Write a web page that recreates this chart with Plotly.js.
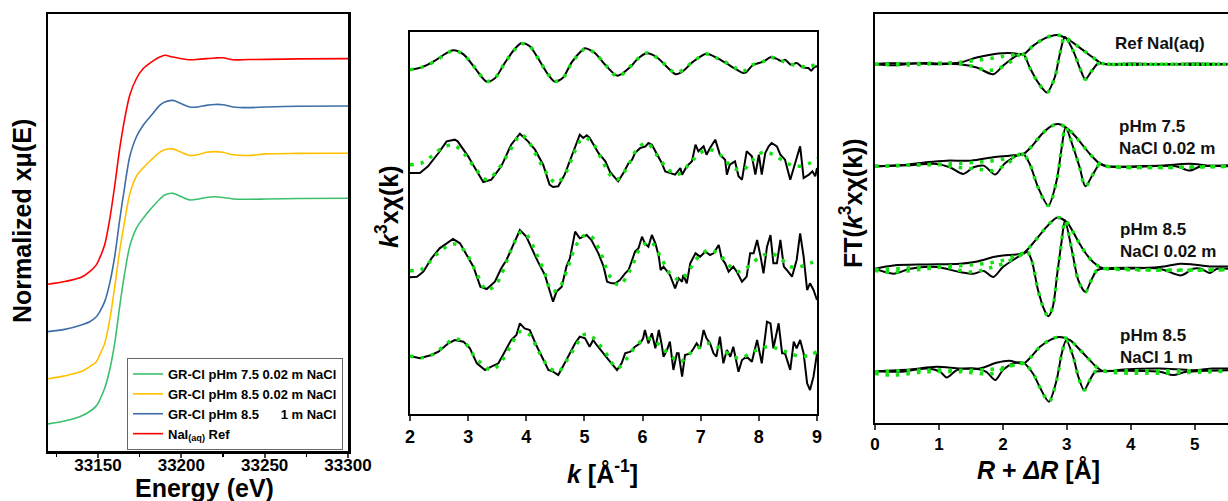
<!DOCTYPE html>
<html><head><meta charset="utf-8">
<script src="https://cdn.plot.ly/plotly-3.0.1.min.js"></script>
<style>body{margin:0;background:#fff}#chart{width:1228px;height:501px}</style>
</head><body><div id="chart"></div>
<script>
// ===== Left panel: normalized XANES (I K-edge) =====
const energy = [33120,33130,33140,33145,33149,33151,33154,33157,33160,33163,33166,33169,33173,33177,33182,33187,33190,33195,33200,33205,33210,33215,33220,33225,33231,33240,33251,33270,33300];
const xanesGreen  = [0,0.013,0.035,0.055,0.08,0.106,0.158,0.239,0.357,0.52,0.668,0.786,0.867,0.911,0.956,0.996,1.015,1.022,1.007,0.993,0.996,1.004,1.007,1.004,0.997,0.996,0.997,0.999,1.0];
const xanesYellow = [0,0.013,0.032,0.054,0.076,0.106,0.157,0.26,0.406,0.567,0.7,0.817,0.897,0.934,0.971,1.004,1.015,1.019,1.004,0.99,0.993,1.004,1.007,1.004,0.993,0.99,0.997,0.999,1.0];
const xanesBlue   = [0,0.01,0.03,0.044,0.066,0.088,0.133,0.214,0.332,0.494,0.642,0.774,0.863,0.914,0.959,1.003,1.018,1.025,1.01,0.996,0.996,1.003,1.007,1.006,0.996,0.993,0.996,0.999,1.0];
const xanesRed    = [0,0.012,0.031,0.056,0.086,0.116,0.175,0.287,0.435,0.6,0.733,0.837,0.911,0.955,0.985,1.007,1.015,1.007,1.0,0.995,0.997,1.0,1.003,1.004,0.995,0.996,0.997,0.999,1.0];
const xanesOffsets = [0, 0.2, 0.409, 0.619];
const xanesNames = ["GR-Cl pHm 7.5 0.02 m NaCl","GR-Cl pHm 8.5 0.02 m NaCl","GR-Cl pHm 8.5\u00a0\u00a0\u00a0\u00a0\u00a0\u00a01 m NaCl","NaI<sub>(aq)</sub> Ref"];
const energyTicks = [33150, 33200, 33250, 33300];

// ===== Middle panel: k^3-weighted EXAFS (data and fit) =====
const kFit1 = [2.0,2.2,2.43,2.6,2.74,2.92,3.12,3.32,3.46,3.63,3.8,3.92,4.06,4.2,4.38,4.49,4.63,4.78,4.95,5.01,5.18,5.36,5.57,5.79,5.9,6.07,6.24,6.42,6.56,6.7,6.87,7.1,7.27,7.45,7.62,7.73,7.9,8.08,8.2,8.37,8.54,8.71,8.88,9.0];
const chiFit1 = [-2,5,23,43,55,43,3,-37,-27,18,58,76,68,33,-17,-37,-27,18,53,61,48,13,-22,8,28,48,35,8,-12,-2,23,45,33,18,1,-7,13,23,35,26,15,8,8,15];
const kData1 = [2.0,2.2,2.43,2.6,2.74,2.92,3.12,3.32,3.46,3.63,3.8,3.92,4.06,4.2,4.38,4.49,4.63,4.78,4.95,5.01,5.18,5.36,5.57,5.79,5.9,6.07,6.24,6.42,6.56,6.62,6.7,6.87,7.1,7.27,7.45,7.62,7.73,7.78,7.9,8.08,8.2,8.3,8.4,8.45,8.55,8.65,8.75,8.85,8.9,8.95,9.0];
const chiData1 = [-2,5,25,45,56,44,2,-38,-28,18,60,78,68,33,-18,-38,-26,20,55,62,48,12,-20,6,28,47,36,6,-15,-14,-6,22,46,34,16,-2,-12,-10,12,22,35,31,23,28,13,18,5,3,-5,5,8];

const kFit2 = [2.0,2.2,2.37,2.54,2.74,2.92,3.12,3.32,3.49,3.66,3.8,3.89,4.0,4.12,4.26,4.43,4.52,4.66,4.81,4.92,5.01,5.12,5.3,5.44,5.56,5.73,5.9,6.07,6.24,6.42,6.59,6.82,6.99,7.16,7.33,7.56,7.73,7.9,8.08,8.25,8.48,8.65,8.88,9.0];
const chiFit2 = [10,15,35,58,69,45,0,-35,-10,35,75,99,90,55,10,-35,-45,-20,40,80,90,80,25,-20,-35,0,55,75,40,0,-20,15,45,55,40,0,-5,25,48,40,15,5,15,30];
const kData2 = [2.0,2.17,2.31,2.49,2.63,2.77,2.82,3.0,3.15,3.26,3.4,3.57,3.74,3.89,4.03,4.15,4.29,4.4,4.46,4.55,4.66,4.78,4.86,4.92,4.98,5.04,5.09,5.18,5.24,5.36,5.44,5.58,5.67,5.76,5.82,5.87,5.96,6.05,6.1,6.16,6.24,6.33,6.39,6.47,6.56,6.65,6.68,6.76,6.85,6.91,6.96,7.05,7.1,7.16,7.25,7.33,7.42,7.45,7.5,7.59,7.65,7.71,7.79,7.88,7.94,8.0,8.05,8.11,8.17,8.22,8.31,8.37,8.45,8.54,8.63,8.71,8.77,8.86,8.92,8.97,9.0];
const chiData2 = [-15,-15,5,45,80,85,80,35,-10,-42,-35,5,70,103,80,55,10,-50,-57,-55,-20,35,75,100,90,98,90,65,45,20,-12,-40,-15,15,25,45,60,65,75,70,45,15,-10,-15,-20,0,-20,5,20,70,50,65,40,60,85,40,25,-20,10,20,-25,-35,50,35,-20,40,-20,45,65,75,65,40,25,-35,20,65,-30,-20,-10,-25,0];

const kFit3 = [2.0,2.2,2.37,2.54,2.77,2.95,3.12,3.32,3.49,3.66,3.8,3.92,4.03,4.17,4.32,4.4,4.46,4.58,4.72,4.86,5.01,5.12,5.27,5.41,5.53,5.61,5.79,5.96,6.13,6.31,6.47,6.65,6.82,6.99,7.16,7.33,7.51,7.68,7.85,8.03,8.2,8.37,8.54,8.71,8.88,9.0];
const chiFit3 = [-2,2,30,60,78,55,0,-60,-40,25,85,115,100,50,-10,-55,-65,-50,10,75,105,100,55,-10,-40,-45,0,65,85,40,-10,-30,5,45,60,45,10,-5,15,40,50,35,10,10,20,28];
const kData3 = [2.0,2.12,2.23,2.37,2.51,2.66,2.74,2.86,2.97,3.09,3.21,3.32,3.46,3.57,3.66,3.78,3.89,4.0,4.09,4.2,4.32,4.4,4.46,4.52,4.61,4.69,4.75,4.84,4.92,5.04,5.12,5.24,5.33,5.39,5.47,5.53,5.61,5.7,5.76,5.82,5.87,5.93,5.99,6.04,6.1,6.16,6.22,6.28,6.31,6.36,6.42,6.47,6.56,6.62,6.68,6.7,6.76,6.82,6.91,6.99,7.08,7.16,7.22,7.31,7.36,7.42,7.48,7.56,7.62,7.71,7.79,7.85,7.91,7.97,8.03,8.08,8.14,8.2,8.25,8.31,8.37,8.43,8.48,8.57,8.65,8.71,8.77,8.83,8.88,8.94,9.0];
const chiData3 = [-22,-20,-5,35,65,85,93,80,45,10,-50,-57,-35,5,30,75,120,100,65,25,-15,-65,-95,-65,-50,10,35,115,95,105,90,50,10,-35,-40,-40,-30,-10,0,30,55,65,100,80,70,105,80,40,0,10,-5,-15,-55,-25,-35,-15,-40,20,50,40,55,45,50,75,35,20,-5,10,-5,-35,-20,50,50,90,40,-10,70,105,20,20,90,10,0,-20,30,110,40,-60,-40,-60,-90];

const kFit4 = [2.0,2.2,2.43,2.6,2.77,2.95,3.09,3.23,3.4,3.57,3.74,3.89,4.06,4.2,4.38,4.55,4.72,4.86,4.98,5.09,5.24,5.41,5.56,5.73,5.9,6.07,6.2,6.35,6.5,6.65,6.82,6.99,7.16,7.33,7.51,7.68,7.85,8.03,8.2,8.37,8.54,8.71,8.88,9.0];
const chiFit4 = [-3,-8,5,30,48,35,0,-25,-45,-20,30,70,60,15,-35,-50,-10,30,60,60,35,-5,-40,-10,30,50,42,20,-5,-20,5,25,35,20,0,-10,5,20,25,15,5,-5,0,10];
const kData4 = [2.0,2.17,2.37,2.49,2.66,2.77,2.92,3.03,3.15,3.29,3.4,3.52,3.63,3.74,3.83,3.89,3.97,4.06,4.17,4.29,4.38,4.46,4.55,4.66,4.75,4.84,4.92,5.01,5.09,5.15,5.21,5.36,5.44,5.56,5.64,5.7,5.79,5.87,5.96,6.01,6.04,6.1,6.16,6.22,6.28,6.33,6.36,6.42,6.47,6.53,6.59,6.62,6.68,6.73,6.82,6.88,6.93,6.99,7.05,7.1,7.16,7.22,7.27,7.33,7.39,7.45,7.51,7.56,7.65,7.71,7.79,7.88,7.97,8.05,8.14,8.2,8.25,8.34,8.4,8.45,8.54,8.6,8.65,8.71,8.77,8.83,8.88,8.94,9.0];
const chiData4 = [-3,-10,0,10,35,45,40,20,-25,-45,-35,-25,10,45,60,95,80,75,30,-15,-45,-50,-60,-25,5,35,55,50,25,45,30,-5,-20,-45,-25,5,10,25,35,50,75,35,65,20,75,30,-5,15,40,-45,5,5,-65,0,5,20,35,20,75,50,35,5,-5,55,-25,15,-5,25,-50,-15,-5,-20,45,-25,100,95,20,95,5,5,-45,40,20,45,5,-85,-105,-65,5];
const chiOffsets = [1035, 738, 432, 177];

// ===== Right panel: Fourier transforms (magnitude and imaginary part) =====
const rMag1Data = [0,0.2,0.5,0.8,1.0,1.33,1.59,1.85,2.0,2.16,2.32,2.47,2.68,2.85,3.02,3.2,3.41,3.52,3.62,4.0,4.5,5.0,5.52];
const mag1Data  = [0,3,2,4,2,5,20,30,33,33,30,55,80,88,75,50,20,5,0,2,0,2,0];
const rMag1Fit  = [0,0.5,1.0,1.28,1.6,1.9,2.1,2.27,2.32,2.47,2.68,2.85,3.02,3.2,3.41,3.52,3.62,4.0,4.5,5.0,5.52];
const mag1Fit   = [0,2,3,5,12,20,27,30,30,55,80,88,75,50,20,5,0,0,0,0,0];
const rIm1Data  = [0,0.3,0.6,1.0,1.33,1.59,1.85,2.0,2.21,2.32,2.42,2.55,2.69,2.81,2.89,2.97,3.1,3.2,3.29,3.39,3.49,3.62,4.0,4.5,5.0,5.52];
const im1Data   = [0,-3,2,0,0,-10,-30,-5,25,30,-10,-55,-85,-40,30,82,40,-10,-45,-20,2,0,-2,0,-2,0];
const rIm1Fit   = [0,0.5,1.0,1.28,1.5,1.74,1.9,2.1,2.27,2.32,2.42,2.55,2.69,2.81,2.89,2.97,3.1,3.2,3.29,3.39,3.49,3.62,4.0,5.0,5.52];
const im1Fit    = [0,-2,2,2,-5,-18,-15,5,30,30,-10,-55,-85,-40,30,82,40,-10,-45,-20,2,0,0,0,0];

const rMag2Data = [0,0.5,0.8,1.12,1.5,1.85,2.1,2.32,2.45,2.6,2.75,2.86,3.0,3.1,3.2,3.36,3.52,3.62,4.5,4.8,5.0,5.2,5.52];
const mag2Data  = [0,5,12,17,17,27,32,37,60,95,120,127,115,97,75,37,7,0,2,7,7,2,3];
const rMag2Fit  = [0,0.5,1.12,1.6,1.85,2.1,2.32,2.45,2.6,2.75,2.86,3.0,3.1,3.2,3.36,3.52,3.62,5.52];
const mag2Fit   = [0,3,7,12,17,25,37,60,95,120,127,115,97,75,37,7,0,0];
const rIm2Data  = [0,0.5,0.96,1.17,1.38,1.54,1.7,1.88,2.02,2.27,2.32,2.42,2.55,2.71,2.84,2.92,2.98,3.1,3.2,3.29,3.41,3.52,3.62,4.7,4.92,5.1,5.52];
const im2Data   = [0,3,7,-3,-23,-3,2,-25,7,37,37,7,-63,-118,-43,57,117,57,-3,-60,-23,7,0,0,-13,0,0];
const rIm2Fit   = [0,0.5,1.0,1.28,1.59,1.85,2.06,2.27,2.32,2.42,2.55,2.71,2.84,2.92,2.98,3.1,3.2,3.29,3.41,3.52,3.62,5.52];
const im2Fit    = [0,3,5,-3,-8,-13,7,37,37,7,-63,-118,-43,57,117,57,-3,-60,-23,7,0,0];

const rMag3Data = [0,0.29,0.81,1.33,1.6,1.85,2.0,2.32,2.42,2.55,2.68,2.85,3.0,3.1,3.2,3.3,3.41,3.52,3.62,4.45,4.77,4.97,5.23,5.52];
const mag3Data  = [0,10,13,15,22,35,40,47,65,95,125,154,140,110,75,45,20,5,0,5,15,13,7,7];
const rMag3Fit  = [0,0.81,1.6,2.0,2.27,2.32,2.42,2.55,2.68,2.85,3.0,3.1,3.2,3.3,3.41,3.52,3.62,5.52];
const mag3Fit   = [-3,5,13,25,45,47,65,95,125,154,140,110,75,45,20,5,0,-3];
const rIm3Data  = [0,0.29,0.55,0.96,1.33,1.54,1.7,1.85,2.0,2.32,2.38,2.45,2.55,2.65,2.71,2.78,2.85,2.92,2.97,3.08,3.18,3.29,3.38,3.47,3.55,4.45,4.79,4.97,5.1,5.23,5.35,5.52];
const im3Data   = [0,-15,0,5,-10,-15,-7,-25,5,45,50,25,-65,-125,-143,-115,-15,85,145,55,-35,-70,-35,-5,0,0,-20,0,0,-13,0,0];
const rIm3Fit   = [0,0.29,0.81,1.12,1.33,1.54,1.75,2.0,2.27,2.32,2.38,2.45,2.55,2.65,2.71,2.78,2.85,2.92,2.97,3.08,3.18,3.29,3.38,3.47,3.55,4.5,5.52];
const im3Fit    = [-5,-10,0,5,-5,-10,0,15,40,45,50,25,-65,-125,-143,-115,-15,85,145,55,-35,-70,-35,-5,0,-5,-3];

const rMag4Data = [0,0.55,0.96,1.33,1.64,1.9,2.1,2.32,2.45,2.58,2.75,2.88,3.05,3.15,3.31,3.46,3.57,3.9,4.45,4.97,5.28,5.52];
const mag4Data  = [0,5,13,8,8,25,31,23,45,73,95,103,93,75,43,13,0,5,8,3,8,8];
const rMag4Fit  = [0,0.8,1.59,2.0,2.27,2.32,2.45,2.58,2.75,2.88,3.05,3.15,3.31,3.46,3.57,5.52];
const mag4Fit   = [-2,3,3,10,23,23,45,73,95,103,93,75,43,13,0,0];
const rIm4Data  = [0,0.39,0.81,1.02,1.12,1.28,1.54,1.74,1.88,2.0,2.16,2.32,2.47,2.6,2.72,2.84,2.92,2.99,3.1,3.18,3.27,3.36,3.44,3.52,4.45,4.66,4.87,5.52];
const im4Data   = [0,-2,8,-2,-19,3,8,-2,-27,3,23,25,-7,-57,-92,-27,53,93,43,-17,-57,-27,-2,0,-2,-12,-2,3];
const rIm4Fit   = [0,0.29,0.81,1.33,1.85,2.06,2.27,2.32,2.47,2.6,2.72,2.84,2.92,2.99,3.1,3.18,3.27,3.36,3.44,3.52,5.52];
const im4Fit    = [-7,-12,-2,-2,-7,13,23,25,-7,-57,-92,-27,53,93,43,-17,-57,-27,-2,0,0];
const ftOffsets = [1079, 772, 464, 156];
const ftLabels = ["Ref NaI(aq)", "pHm 7.5<br>NaCl 0.02 m", "pHm 8.5<br>NaCl 0.02 m", "pHm 8.5<br>NaCl 1 m"];

// ===== build traces =====
const FONT = "Liberation Sans, Arial, sans-serif";
const GREEN_FIT = "#14e014";
const traces = [];
const xanesSeries = [xanesGreen, xanesYellow, xanesBlue, xanesRed];
const xanesColors = ["#3cc06e", "#ffc000", "#3d6ea8", "#ff0000"];
xanesSeries.forEach((s, i) => {
  traces.push({x: energy, y: s.map(v => v + xanesOffsets[i]), xaxis: "x", yaxis: "y",
    type: "scatter", mode: "lines", name: xanesNames[i],
    line: {color: xanesColors[i], width: 1.6, shape: "spline", smoothing: 0.8}});
});

function shifted(arr, off) { return arr.map(v => v + off); }
function dataLine(x, y, off, xa, ya, shape) {
  return {x: x, y: shifted(y, off), xaxis: xa, yaxis: ya, type: "scatter", mode: "lines",
    showlegend: false, hoverinfo: "skip",
    line: {color: "#000", width: 2, shape: shape || "linear", smoothing: 0.8}};
}
function fitLine(x, y, off, xa, ya) {
  return {x: x, y: shifted(y, off), xaxis: xa, yaxis: ya, type: "scatter", mode: "lines",
    showlegend: false, hoverinfo: "skip",
    line: {color: GREEN_FIT, width: 3.5, dash: "3.5px,7px", shape: "spline", smoothing: 1}};
}

const chiSets = [[kData1, chiData1, kFit1, chiFit1],[kData2, chiData2, kFit2, chiFit2],[kData3, chiData3, kFit3, chiFit3],[kData4, chiData4, kFit4, chiFit4]];
chiSets.forEach((s, i) => {
  traces.push(dataLine(s[0], s[1], chiOffsets[i], "x2", "y2", i === 0 ? "spline" : "linear"));
});
chiSets.forEach((s, i) => {
  traces.push(fitLine(s[2], s[3], chiOffsets[i], "x2", "y2"));
});

const ftSets = [
  [rMag1Data, mag1Data, rIm1Data, im1Data, rMag1Fit, mag1Fit, rIm1Fit, im1Fit],
  [rMag2Data, mag2Data, rIm2Data, im2Data, rMag2Fit, mag2Fit, rIm2Fit, im2Fit],
  [rMag3Data, mag3Data, rIm3Data, im3Data, rMag3Fit, mag3Fit, rIm3Fit, im3Fit],
  [rMag4Data, mag4Data, rIm4Data, im4Data, rMag4Fit, mag4Fit, rIm4Fit, im4Fit]];
ftSets.forEach((s, i) => {
  traces.push(dataLine(s[0], s[1], ftOffsets[i], "x3", "y3", "spline"));
  traces.push(dataLine(s[2], s[3], ftOffsets[i], "x3", "y3", "spline"));
});
ftSets.forEach((s, i) => {
  traces.push(fitLine(s[4], s[5], ftOffsets[i], "x3", "y3"));
  traces.push(fitLine(s[6], s[7], ftOffsets[i], "x3", "y3"));
});

// ===== layout =====
const W = 1228, H = 501;
const px = v => v / W, py = v => (H - v) / H;
const frame = {showline: true, linecolor: "#000", mirror: true, showgrid: false, zeroline: false};
const tickF = {family: FONT, size: 17, color: "#000", weight: "bold"};

const annotations = [
  {text: "<b>Normalized xμ(E)</b>", x: px(22), y: py(221), textangle: -90},
  {text: "<b>Energy (eV)</b>", x: px(204), y: py(488)},
  {text: "<b><i>k</i><sup>3</sup>xχ(k)</b>", x: px(387), y: py(206), textangle: -90},
  {text: "<b><i>k</i> [Å<sup>-1</sup>]</b>", x: px(602), y: py(472)},
  {text: "<b>FT(<i>k</i><sup>3</sup>xχ(k))</b>", x: px(851), y: py(203), textangle: -90},
  {text: "<b><i>R</i> + <i>ΔR</i> [Å]</b>", x: px(1038), y: py(470)}
].map(a => Object.assign({xref: "paper", yref: "paper", showarrow: false, xanchor: "center", yanchor: "middle",
  font: {family: FONT, size: 25, color: "#000"}}, a));

const labelPos = [[1113, 44], [1117, 138], [1118, 240], [1118, 346]];
ftLabels.forEach((t, i) => {
  annotations.push({text: "<b>" + t + "</b>", xref: "paper", yref: "paper", x: px(labelPos[i][0]), y: py(labelPos[i][1]),
    xanchor: "left", yanchor: "middle", align: "left", showarrow: false,
    font: {family: FONT, size: 17, color: "#111"}});
});

const layout = {
  width: W, height: H, margin: {l: 0, r: 0, t: 0, b: 0},
  paper_bgcolor: "#fff", plot_bgcolor: "#fff",
  font: {family: FONT, color: "#000"},
  showlegend: true,
  legend: {x: px(127), y: py(358), xanchor: "left", yanchor: "top", bgcolor: "#fff",
    bordercolor: "#666", borderwidth: 1, font: {family: FONT, size: 13, color: "#000", weight: "bold"},
    itemwidth: 30, tracegroupgap: 0},
  xaxis: Object.assign({}, frame, {domain: [px(48), px(348)], anchor: "y", range: [33120, 33300],
    tickmode: "array", tickvals: energyTicks, ticktext: energyTicks.map(String),
    ticks: "outside", ticklen: 4, tickwidth: 2, linewidth: 2.5, ticklabelstandoff: -7,
    minor: {ticks: "outside", ticklen: 3, dtick: 25, tick0: 33125, tickwidth: 1.5, tickcolor: "#000"},
    tickfont: tickF}),
  yaxis: Object.assign({}, frame, {domain: [py(451), py(14)], anchor: "x", range: [-0.12, 1.817],
    showticklabels: false, ticks: "", linewidth: 2.5}),
  xaxis2: Object.assign({}, frame, {domain: [px(410), px(817)], anchor: "y2", range: [2, 9], dtick: 1,
    ticks: "outside", ticklen: 5, tickwidth: 2, linewidth: 2, tickfont: Object.assign({}, tickF, {size: 18})}),
  yaxis2: Object.assign({}, frame, {domain: [py(414), py(32)], anchor: "x2", range: [0, 1146],
    showticklabels: false, ticks: "", linewidth: 2}),
  xaxis3: Object.assign({}, frame, {domain: [px(875), 1], anchor: "y3", range: [0, 5.52], dtick: 1,
    ticks: "outside", ticklen: 5, tickwidth: 2, linewidth: 2, tickfont: tickF}),
  yaxis3: Object.assign({}, frame, {domain: [py(423), py(14)], anchor: "x3", range: [0, 1230],
    showticklabels: false, ticks: "", linewidth: 2}),
  annotations: annotations
};

Plotly.newPlot("chart", traces, layout, {displayModeBar: false, staticPlot: true});
</script>
</body></html>
